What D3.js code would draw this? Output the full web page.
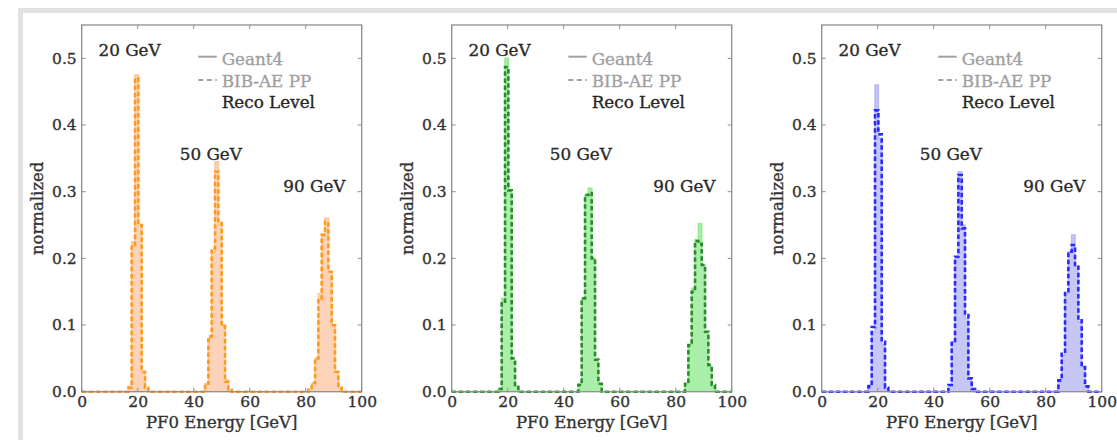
<!DOCTYPE html>
<html>
<head>
<meta charset="utf-8">
<script src="https://cdn.jsdelivr.net/npm/d3@7"></script>
<style>
  body { margin: 0; background: #fff; }
  text { font-family: "DejaVu Serif", serif; stroke-width: 0.35px; }
</style>
</head>
<body>
<svg id="chart" width="1117" height="440"></svg>
<script>
// Histogram binning: 84 equal bins over 0–100 GeV
const NBINS = 84;
const E_MIN = 0, E_MAX = 100;
const Y_MAX = 0.55;

const xTicks = [0, 20, 40, 60, 80, 100];
const yTicks = [0, 0.1, 0.2, 0.3, 0.4, 0.5];
const xTitle = "PF0 Energy [GeV]";
const yTitle = "normalized";

const peakLabels = ["20 GeV", "50 GeV", "90 GeV"];
const peakLabelPos = [[6, 0.503], [35, 0.348], [72, 0.30]];   // [GeV, normalized]
const legendLabels = ["Geant4", "BIB-AE PP", "Reco Level"];

// Each peak: index of its first non-empty bin, then the bin contents
const panel1Start = [14, 37, 68];
const panel1Geant4 = [
  [0.008, 0.225, 0.475, 0.25, 0.028, 0.004],
  [0.012, 0.08, 0.21, 0.345, 0.25, 0.10, 0.018, 0.003],
  [0.002, 0.012, 0.05, 0.147, 0.237, 0.26, 0.18, 0.097, 0.03, 0.005]
];
const panel1BibAE = [
  [0.006, 0.22, 0.47, 0.25, 0.03, 0.006],
  [0.012, 0.083, 0.215, 0.33, 0.253, 0.098, 0.015, 0.003],
  [0.003, 0.013, 0.05, 0.14, 0.235, 0.255, 0.18, 0.10, 0.03, 0.006]
];

const panel2Start = [14, 38, 70];
const panel2Geant4 = [
  [0.005, 0.14, 0.50, 0.30, 0.045, 0.008],
  [0.012, 0.14, 0.295, 0.305, 0.20, 0.05, 0.012],
  [0.012, 0.07, 0.155, 0.228, 0.252, 0.19, 0.088, 0.038, 0.009]
];
const panel2BibAE = [
  [0.004, 0.135, 0.487, 0.302, 0.05, 0.01],
  [0.01, 0.14, 0.295, 0.298, 0.20, 0.048, 0.012],
  [0.012, 0.07, 0.15, 0.226, 0.222, 0.19, 0.09, 0.04, 0.01]
];

const panel3Start = [14, 38, 71];
const panel3Geant4 = [
  [0.01, 0.09, 0.46, 0.38, 0.07, 0.005],
  [0.01, 0.075, 0.20, 0.33, 0.25, 0.11, 0.02, 0.003],
  [0.015, 0.055, 0.148, 0.21, 0.235, 0.188, 0.105, 0.037, 0.008]
];
const panel3BibAE = [
  [0.008, 0.097, 0.422, 0.386, 0.075, 0.006],
  [0.01, 0.073, 0.2025, 0.325, 0.245, 0.115, 0.02, 0.004],
  [0.017, 0.057, 0.148, 0.21, 0.22, 0.19, 0.107, 0.037, 0.008]
];

const panelColors = [
  { fill: "#fcd3b8", edge: "#f8c6a4", dash: "#ff9a1c" },
  { fill: "#a9efa9", edge: "#98e898", dash: "#2c8a2c" },
  { fill: "#c7c7f6", edge: "#b9b9f3", dash: "#2a2aff" }
];

const panels = [
  { start: panel1Start, g4: panel1Geant4, bib: panel1BibAE, color: panelColors[0] },
  { start: panel2Start, g4: panel2Geant4, bib: panel2BibAE, color: panelColors[1] },
  { start: panel3Start, g4: panel3Geant4, bib: panel3BibAE, color: panelColors[2] }
];

// expand the sparse peaks into full 84-bin arrays
function toBins(starts, peaks) {
  const v = new Array(NBINS).fill(0);
  peaks.forEach((p, i) => p.forEach((val, j) => { v[starts[i] + j] = val; }));
  return v;
}

const svg = d3.select("#chart");

// light outer frame
svg.append("rect")
  .attr("x", 20.5).attr("y", 10.5)
  .attr("width", 1300).attr("height", 1000)
  .attr("fill", "none").attr("stroke", "#e2e2e2").attr("stroke-width", 5);

const W = 280, H = 366.7, TOP = 25;
const lefts = [81.7, 451.7, 821.7];
const binW = (E_MAX - E_MIN) / NBINS;

function colorText(sel, c) { return sel.attr("fill", c).attr("stroke", c); }

panels.forEach((pd, pi) => {
  const g = svg.append("g").attr("transform", `translate(${lefts[pi]},${TOP})`);
  const x = d3.scaleLinear().domain([E_MIN, E_MAX]).range([0, W]);
  const y = d3.scaleLinear().domain([0, Y_MAX]).range([H, 0]);

  const stepPts = vals => {
    const pts = vals.map((v, k) => [E_MIN + k * binW, v]);
    pts.push([E_MAX, vals[NBINS - 1]]);
    return pts;
  };

  const g4 = toBins(pd.start, pd.g4);
  const bib = toBins(pd.start, pd.bib);

  const area = d3.area().x(d => x(d[0])).y0(y(0)).y1(d => y(d[1])).curve(d3.curveStepAfter);
  const line = d3.line().x(d => x(d[0])).y(d => y(d[1])).curve(d3.curveStepAfter);

  // Geant4: filled step histogram
  g.append("path").attr("d", area(stepPts(g4)))
    .attr("fill", pd.color.fill).attr("stroke", "none");
  g.append("path").attr("d", line(stepPts(g4)))
    .attr("fill", "none").attr("stroke", pd.color.edge).attr("stroke-width", 1.6);

  // BIB-AE PP: dashed step line
  g.append("path").attr("d", line(stepPts(bib)))
    .attr("fill", "none").attr("stroke", pd.color.dash)
    .attr("stroke-width", 2.6).attr("stroke-dasharray", "4.5,2.6");

  // frame
  g.append("rect").attr("x", 0).attr("y", 0).attr("width", W).attr("height", H)
    .attr("fill", "none").attr("stroke", "#8e8e8e").attr("stroke-width", 1.3);

  // inward ticks on all four sides
  const tickLen = 4;
  xTicks.forEach(t => {
    g.append("line").attr("x1", x(t)).attr("x2", x(t)).attr("y1", H).attr("y2", H - tickLen)
      .attr("stroke", "#8e8e8e");
    g.append("line").attr("x1", x(t)).attr("x2", x(t)).attr("y1", 0).attr("y2", tickLen)
      .attr("stroke", "#8e8e8e");
  });
  yTicks.forEach(t => {
    g.append("line").attr("x1", 0).attr("x2", tickLen).attr("y1", y(t)).attr("y2", y(t))
      .attr("stroke", "#8e8e8e");
    g.append("line").attr("x1", W).attr("x2", W - tickLen).attr("y1", y(t)).attr("y2", y(t))
      .attr("stroke", "#8e8e8e");
  });

  // axis tick labels via d3 axes
  const xAxis = d3.axisBottom(x).tickValues(xTicks).tickFormat(d3.format("d")).tickSize(0).tickPadding(4);
  const gx = g.append("g").attr("transform", `translate(0,${H})`).call(xAxis);
  gx.select(".domain").remove();
  colorText(gx.selectAll("text").attr("font-size", 15.5)
    .attr("font-family", "DejaVu Serif, serif"), "#333");

  const yAxis = d3.axisLeft(y).tickValues(yTicks).tickFormat(d3.format(".1f")).tickSize(0).tickPadding(5);
  const gy = g.append("g").call(yAxis);
  gy.select(".domain").remove();
  colorText(gy.selectAll("text").attr("font-size", 15.5)
    .attr("font-family", "DejaVu Serif, serif"), "#333");

  // axis titles
  colorText(g.append("text").attr("x", W / 2).attr("y", H + 36.5).attr("text-anchor", "middle")
    .attr("font-size", 16.5).text(xTitle), "#333");
  colorText(g.append("text").attr("transform", `translate(${-44},${(H) / 2}) rotate(-90)`)
    .attr("text-anchor", "middle").attr("dominant-baseline", "central")
    .attr("font-size", 16.5).text(yTitle), "#333");

  // peak energy labels
  peakLabels.forEach((lab, i) => {
    colorText(g.append("text").attr("x", x(peakLabelPos[i][0])).attr("y", y(peakLabelPos[i][1]))
      .attr("font-size", 16.8).text(lab), "#2a2a2a");
  });

  // legend
  const lx0 = 116.6, lx1 = 135, tx = 140;
  g.append("line").attr("x1", lx0).attr("x2", lx1).attr("y1", 31.7).attr("y2", 31.7)
    .attr("stroke", "#a0a0a0").attr("stroke-width", 2);
  g.append("line").attr("x1", lx0).attr("x2", lx1).attr("y1", 55).attr("y2", 55)
    .attr("stroke", "#a0a0a0").attr("stroke-width", 2).attr("stroke-dasharray", "5,3.5");
  colorText(g.append("text").attr("x", tx).attr("y", 39.5).attr("font-size", 16.8)
    .text(legendLabels[0]), "#a0a0a0");
  colorText(g.append("text").attr("x", tx).attr("y", 61.5).attr("font-size", 16.8)
    .text(legendLabels[1]), "#a0a0a0");
  colorText(g.append("text").attr("x", tx).attr("y", 83).attr("font-size", 16.8)
    .text(legendLabels[2]), "#262626");
});
</script>
</body>
</html>
